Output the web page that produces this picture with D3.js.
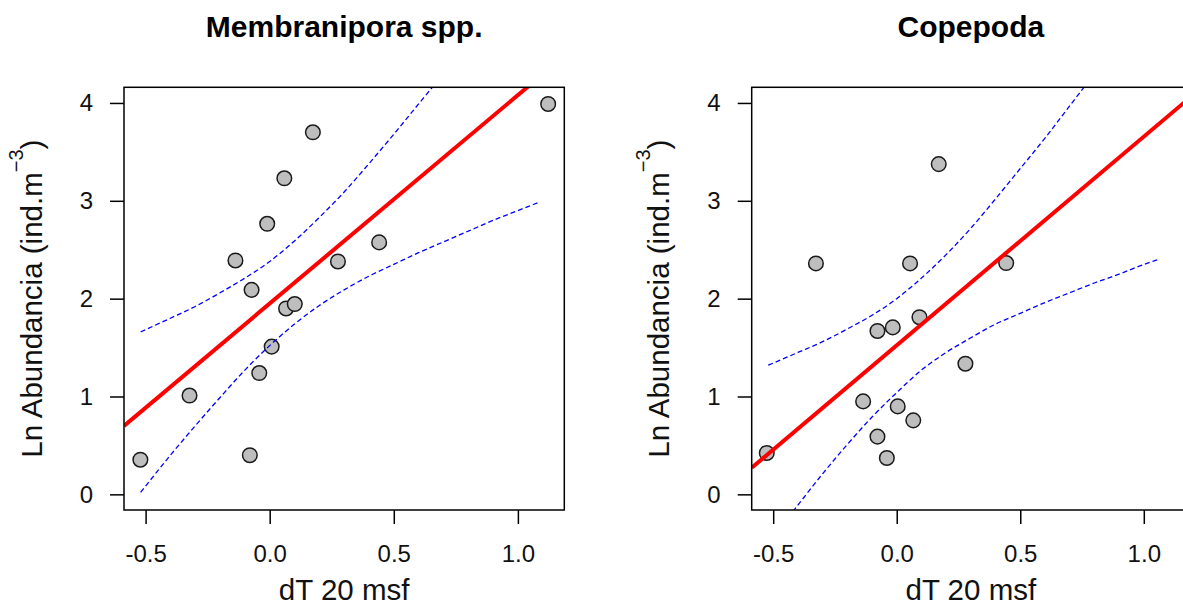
<!DOCTYPE html>
<html>
<head>
<meta charset="utf-8">
<script src="https://cdn.jsdelivr.net/npm/d3@7"></script>
<style>
  body { margin: 0; background: #fff; }
  svg { display: block; }
  text { font-family: "Liberation Sans", Arial, sans-serif; }
</style>
</head>
<body>
<div id="chart"></div>
<script>
// panel titles and axis text
const titles = ["Membranipora spp.", "Copepoda"];
const xLabel = "dT 20 msf";
const xTicks = [-0.5, 0.0, 0.5, 1.0];
const yTicks = [0, 1, 2, 3, 4];

// Membranipora spp. observations
const membX = [-0.521, -0.323, -0.138, -0.073, -0.080, -0.042, -0.010, 0.008, 0.059, 0.066, 0.101, 0.174, 0.275, 0.441, 1.122];
const membY = [0.354, 1.01, 2.39, 2.09, 0.40, 1.24, 2.765, 1.51, 3.23, 1.90, 1.945, 3.70, 2.38, 2.575, 3.99];

// Copepoda observations
const copX = [-0.526, -0.327, -0.136, -0.078, -0.078, -0.040, -0.016, 0.004, 0.054, 0.067, 0.092, 0.170, 0.278, 0.443];
const copY = [0.423, 2.36, 0.95, 1.67, 0.59, 0.372, 1.706, 0.899, 2.36, 0.756, 1.81, 3.375, 1.335, 2.364];

// fitted lines: [intercept, slope]
const membFit = [1.95, 2.13];
const copFit = [1.523, 2.133];

// confidence band (dashed blue)
const membBandX = [-0.52, -0.4, -0.3, -0.2, -0.1, 0, 0.1, 0.2, 0.3, 0.4, 0.5, 0.6, 0.7, 0.8, 0.9, 1.0, 1.08];
const membUpper = [1.66, 1.80, 1.92, 2.06, 2.21, 2.38, 2.59, 2.83, 3.09, 3.38, 3.68, 3.99, 4.30, 4.62, 4.94, 5.26, 5.52];
const membLower = [0.02, 0.40, 0.70, 0.99, 1.27, 1.52, 1.74, 1.93, 2.09, 2.23, 2.35, 2.47, 2.58, 2.69, 2.80, 2.90, 2.98];

const copBandX = [-0.52, -0.4, -0.3, -0.2, -0.1, 0, 0.1, 0.2, 0.3, 0.4, 0.5, 0.6, 0.7, 0.8, 0.9, 1.0, 1.06];
const copUpper = [1.32, 1.45, 1.56, 1.69, 1.83, 2.00, 2.21, 2.45, 2.72, 3.02, 3.33, 3.64, 3.97, 4.30, 4.63, 4.97, 5.17];
const copLower = [-0.50, -0.11, 0.21, 0.51, 0.79, 1.04, 1.27, 1.45, 1.60, 1.74, 1.85, 1.96, 2.06, 2.16, 2.25, 2.35, 2.40];

var width = 1183, height = 609;
var top_ = 87.3, bottom = 510;

var svg = d3.select("#chart")
    .append("svg")
    .attr("width", width)
    .attr("height", height)
    .style("overflow", "hidden");

drawPanel(svg, "p1", {left: 124, right: 564.3}, titles[0], membX, membY, membFit, membBandX, membUpper, membLower);
drawPanel(svg, "p2", {left: 751.7, right: 1190}, titles[1], copX, copY, copFit, copBandX, copUpper, copLower);

function drawPanel(svg, id, pos, title, xs, ys, fit, bandX, upper, lower) {
  var x = d3.scaleLinear().domain([-0.587, 1.187]).range([pos.left, pos.right]);
  var y = d3.scaleLinear().domain([-0.16, 4.16]).range([bottom, top_]);
  var cx = (pos.left + pos.right) / 2;
  var cy = (top_ + bottom) / 2;

  svg.append("clipPath")
      .attr("id", "clip-" + id)
      .append("rect")
      .attr("x", pos.left)
      .attr("y", top_)
      .attr("width", pos.right - pos.left)
      .attr("height", bottom - top_);

  // x axis
  var gx = svg.append("g")
      .attr("transform", "translate(0," + bottom + ")")
      .call(d3.axisBottom(x).tickValues(xTicks).tickFormat(d => d.toFixed(1)).tickSize(14).tickPadding(21))
      .attr("font-family", null)
      .attr("font-size", null);
  gx.select(".domain").remove();
  gx.selectAll("line").attr("stroke", "#000").attr("stroke-width", 1.5);
  gx.selectAll("text").style("font-size", "24px").attr("fill", "#111");

  // y axis
  var gy = svg.append("g")
      .attr("transform", "translate(" + pos.left + ",0)")
      .call(d3.axisLeft(y).tickValues(yTicks).tickFormat(d3.format("d")).tickSize(14).tickPadding(17))
      .attr("font-family", null)
      .attr("font-size", null);
  gy.select(".domain").remove();
  gy.selectAll("line").attr("stroke", "#000").attr("stroke-width", 1.5);
  gy.selectAll("text").style("font-size", "24px").attr("fill", "#111");

  var plot = svg.append("g").attr("clip-path", "url(#clip-" + id + ")");

  // points
  plot.selectAll("circle.pt")
      .data(xs.map((d, i) => [d, ys[i]]))
      .enter()
      .append("circle")
      .attr("class", "pt")
      .attr("cx", d => x(d[0]))
      .attr("cy", d => y(d[1]))
      .attr("r", 7.3)
      .attr("fill", "#bebebe")
      .attr("stroke", "#1a1a1a")
      .attr("stroke-width", 1.5);

  // regression line across the whole region
  var xd = x.domain();
  plot.append("line")
      .attr("x1", x(xd[0]))
      .attr("y1", y(fit[0] + fit[1] * xd[0]))
      .attr("x2", x(xd[1]))
      .attr("y2", y(fit[0] + fit[1] * xd[1]))
      .attr("stroke", "#ff0000")
      .attr("stroke-width", 4);

  // confidence band
  var band = d3.line()
      .x(d => x(d[0]))
      .y(d => y(d[1]))
      .curve(d3.curveMonotoneX);
  [upper, lower].forEach(function (vals) {
    plot.append("path")
        .datum(bandX.map((d, i) => [d, vals[i]]))
        .attr("d", band)
        .attr("fill", "none")
        .attr("stroke", "#0000ff")
        .attr("stroke-width", 1.3)
        .attr("stroke-dasharray", "5,3");
  });

  // box
  svg.append("rect")
      .attr("x", pos.left)
      .attr("y", top_)
      .attr("width", pos.right - pos.left)
      .attr("height", bottom - top_)
      .attr("fill", "none")
      .attr("stroke", "#000")
      .attr("stroke-width", 1.5);

  // title
  svg.append("text")
      .attr("x", cx)
      .attr("y", 37.3)
      .attr("text-anchor", "middle")
      .style("font-size", "30px")
      .style("font-weight", "bold")
      .text(title);

  // x label
  svg.append("text")
      .attr("x", cx)
      .attr("y", 600)
      .attr("text-anchor", "middle")
      .style("font-size", "29.5px")
      .attr("fill", "#111")
      .text(xLabel);

  // y label with superscript
  var yl = svg.append("text")
      .attr("transform", "translate(" + (pos.left - 82.5) + "," + cy + ") rotate(-90)")
      .attr("text-anchor", "middle")
      .style("font-size", "29.5px")
      .attr("fill", "#111");
  yl.append("tspan").text("Ln Abundancia (ind.m");
  yl.append("tspan").attr("dy", -19).style("font-size", "20px").text("\u22123");
  yl.append("tspan").attr("dy", 19).text(")");
}
</script>
</body>
</html>
